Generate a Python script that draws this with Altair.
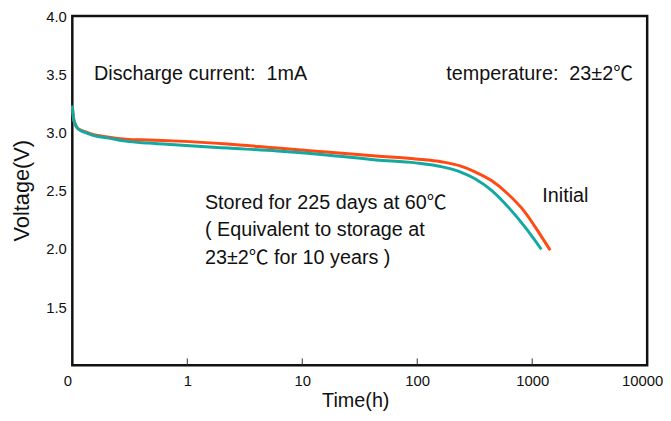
import altair as alt
import pandas as pd

# ---- data ----
time_initial = [0.1, 0.101, 0.103, 0.1061, 0.1104, 0.1149, 0.1219, 0.1294, 0.1486, 0.2082,
                0.2915, 0.4599, 0.8333, 2.245, 6.046, 16.28, 43.85, 96.9, 165.4, 236.3,
                318.1, 445.6, 611.9, 857.1, 1200, 1434]
volt_initial = [3.23, 3.18, 3.11, 3.07, 3.04, 3.025, 3.015, 3.007, 2.986, 2.960,
                2.943, 2.935, 2.926, 2.901, 2.866, 2.832, 2.798, 2.773, 2.747, 2.713,
                2.662, 2.585, 2.474, 2.321, 2.108, 1.989]

time_stored = [0.1, 0.101, 0.103, 0.1061, 0.1104, 0.1149, 0.1219, 0.1294, 0.1486, 0.2082,
               0.2915, 0.4599, 0.8333, 2.245, 6.046, 16.28, 43.85, 96.9, 165.4, 236.3,
               318.1, 445.6, 611.9, 857.1, 1200]
volt_stored = [3.23, 3.18, 3.11, 3.07, 3.04, 3.025, 3.01, 3.00, 2.977, 2.952,
               2.926, 2.909, 2.892, 2.866, 2.841, 2.807, 2.764, 2.739, 2.705, 2.662,
               2.602, 2.50, 2.364, 2.193, 1.997]

series_names = ["Initial", "Stored"]
series_colors = ["#FF4A14", "#14A8A2"]

x_ticks = [0.1, 1, 10, 100, 1000, 10000]
inner_ticks = [1, 10, 100, 1000]
y_ticks = [1.5, 2.0, 2.5, 3.0, 3.5, 4.0]

ann_text = ["Discharge current:\u00a0\u00a01mA",
            "temperature:\u00a0\u00a023\u00b12\u2103",
            "Stored for 225 days at 60\u2103",
            "(\u00a0Equivalent to storage at",
            "23\u00b12\u2103\u00a0for 10 years\u00a0)",
            "Initial"]
ann_t = [0.1546, 179.1, 1.423, 1.423, 1.423, 1225]
ann_v = [3.506, 3.506, 2.398, 2.159, 1.920, 2.457]

# ---- tables ----
lines_df = pd.concat([
    pd.DataFrame({"t": time_initial, "v": volt_initial, "s": series_names[0], "o": range(len(time_initial))}),
    pd.DataFrame({"t": time_stored, "v": volt_stored, "s": series_names[1], "o": range(len(time_stored))}),
])
ticks_df = pd.DataFrame({"t": inner_ticks, "v": [1.0] * len(inner_ticks)})
ann_df = pd.DataFrame({"t": ann_t, "v": ann_v, "label": ann_text})

FONT = "Liberation Sans, Arial, Noto Sans CJK SC, sans-serif"

xscale = alt.Scale(type="log", domain=[0.1, 10000], nice=False)
yscale = alt.Scale(domain=[1, 4], nice=False, zero=False)

x_axis = alt.Axis(
    values=x_ticks,
    labelExpr="datum.value < 0.5 ? '0' : format(datum.value, 'd')",
    grid=False, domain=False, ticks=False, tickSize=0,
    labelFlush=False,
    labelFont=FONT, labelFontSize=15, labelColor="#111", labelPadding=8,
    labelOffset={"condition": [{"test": "datum.value < 0.5", "value": -5},
                               {"test": "datum.value > 5000", "value": -5}],
                 "value": 0},
    title="Time(h)", titleFont=FONT, titleFontSize=20, titleFontWeight="normal",
    titleColor="#111", titleX=286, titleY=36, titleBaseline="middle", titleAlign="center",
)
y_axis = alt.Axis(
    values=y_ticks, format=".1f",
    grid=False, domain=False, ticks=False, tickSize=0,
    labelFont=FONT, labelFontSize=15, labelColor="#111", labelPadding=6,
    title="Voltage(V)", titleFont=FONT, titleFontSize=22, titleFontWeight="normal",
    titleColor="#111", titleAngle=270, titleX=-51, titleY=176,
    titleBaseline="middle", titleAlign="center",
)

X = alt.X("t:Q", scale=xscale, axis=x_axis)
Y = alt.Y("v:Q", scale=yscale, axis=y_axis)

lines = alt.Chart(lines_df).mark_line(strokeWidth=3, interpolate="monotone").encode(
    x=X,
    y=Y,
    color=alt.Color("s:N", scale=alt.Scale(domain=series_names, range=series_colors), legend=None),
    detail="s:N",
    order="o:Q",
)

inner = alt.Chart(ticks_df).mark_rule(color="#333", strokeWidth=1).encode(
    x=X,
    y=alt.value(353),
    y2=alt.value(346),
)

texts = alt.Chart(ann_df).mark_text(
    align="left", baseline="middle", font=FONT, fontSize=20, color="#111"
).encode(
    x=X,
    y=Y,
    text="label:N",
)

chart = alt.layer(lines, inner, texts).properties(
    width=581, height=353,
    autosize=alt.AutoSizeParams(type="none"),
    padding={"left": 65, "top": 6, "right": 16, "bottom": 46},
    background="white",
).configure_view(stroke="#111", strokeWidth=2.5)

chart.save("out.html", embed_options={"renderer": "svg", "actions": False})
